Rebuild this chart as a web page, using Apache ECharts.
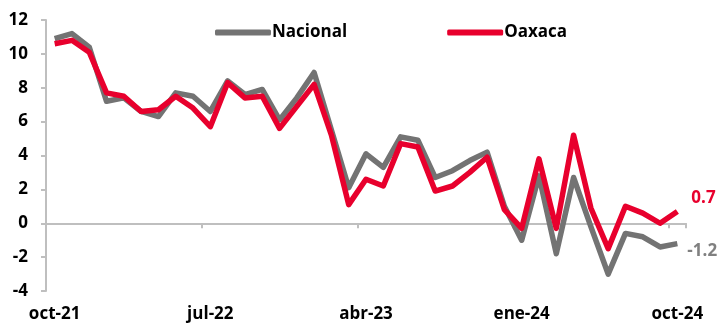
<!DOCTYPE html>
<html>
<head>
<meta charset="utf-8">
<script src="https://cdn.jsdelivr.net/npm/echarts@6/dist/echarts.min.js"></script>
<style>
	html, body { margin: 0; padding: 0; background: #fff; }
	#chart { width: 718px; height: 329px; }
</style>
</head>
<body>
<div id="chart"></div>
<script>
	// meses oct-21 ... oct-24
	const months = [
		'oct-21', 'nov-21', 'dic-21', 'ene-22', 'feb-22', 'mar-22', 'abr-22', 'may-22', 'jun-22',
		'jul-22', 'ago-22', 'sep-22', 'oct-22', 'nov-22', 'dic-22', 'ene-23', 'feb-23', 'mar-23',
		'abr-23', 'may-23', 'jun-23', 'jul-23', 'ago-23', 'sep-23', 'oct-23', 'nov-23', 'dic-23',
		'ene-24', 'feb-24', 'mar-24', 'abr-24', 'may-24', 'jun-24', 'jul-24', 'ago-24', 'sep-24', 'oct-24'
	];
	const nacional = [
		10.9, 11.2, 10.4, 7.2, 7.4, 6.6, 6.3, 7.7, 7.5,
		6.6, 8.4, 7.6, 7.9, 6.1, 7.4, 8.9, 5.5, 2.1,
		4.1, 3.3, 5.1, 4.9, 2.7, 3.1, 3.7, 4.2, 1.0,
		-1.0, 2.8, -1.8, 2.7, -0.2, -3.0, -0.6, -0.8, -1.4, -1.2
	];
	const oaxaca = [
		10.6, 10.8, 10.1, 7.7, 7.5, 6.6, 6.7, 7.5, 6.8,
		5.7, 8.3, 7.4, 7.5, 5.6, 6.9, 8.2, 5.2, 1.1,
		2.6, 2.2, 4.7, 4.5, 1.9, 2.2, 3.0, 3.9, 0.8,
		-0.3, 3.8, -0.3, 5.2, 0.9, -1.5, 1.0, 0.6, 0.0, 0.7
	];
	const yTicks = { min: -4, max: 12, interval: 2 };

	const font = '"Open Sans", "Noto Sans", sans-serif';
	const axisGray = '#bfbfbf';
	const grayLine = '#737373';
	const redLine = '#e8002d';

	let myChart = echarts.init(document.getElementById('chart'));
	const option = {
		animation: false,
		backgroundColor: '#fff',
		graphic: [{
			type: 'text',
			x: 0,
			y: -13,
			style: {
				text: '% anual',
				font: 'bold 17px ' + font,
				fill: '#000',
				verticalAlign: 'top'
			}
		}],
		legend: {
			data: ['Nacional', 'Oaxaca'],
			left: 210,
			top: 19,
			itemWidth: 56,
			itemHeight: 6,
			itemGap: 100,
			icon: 'roundRect',
			textStyle: {
				fontFamily: font,
				fontWeight: 'bold',
				fontSize: 17,
				color: '#000',
				padding: [0, 0, 0, -4]
			}
		},
		grid: {
			left: 46,
			right: 32,
			top: 20,
			bottom: 38
		},
		xAxis: [{
			type: 'category',
			data: months,
			position: 'bottom',
			axisLine: { show: false, onZero: false },
			axisTick: { show: false },
			axisLabel: {
				interval: 8,
				margin: 15,
				fontFamily: font,
				fontWeight: 'bold',
				fontSize: 17,
				color: '#000'
			}
		}, {
			type: 'category',
			data: months,
			position: 'bottom',
			axisLine: {
				show: true,
				onZero: true,
				lineStyle: { color: axisGray, width: 2 }
			},
			axisTick: {
				show: true,
				interval: 8,
				length: 5,
				lineStyle: { color: axisGray, width: 2 }
			},
			axisLabel: { show: false }
		}],
		yAxis: {
			type: 'value',
			min: yTicks.min,
			max: yTicks.max,
			interval: yTicks.interval,
			axisLine: {
				show: true,
				onZero: false,
				lineStyle: { color: axisGray, width: 2 }
			},
			axisTick: {
				show: true,
				length: 5,
				lineStyle: { color: axisGray, width: 2 }
			},
			splitLine: { show: false },
			axisLabel: {
				margin: 18,
				fontFamily: font,
				fontWeight: 'bold',
				fontSize: 17,
				color: '#000'
			}
		},
		series: [{
			name: 'Nacional',
			type: 'line',
			xAxisIndex: 0,
			data: nacional,
			symbol: 'none',
			color: grayLine,
			lineStyle: { width: 5.5, color: grayLine, join: 'round' },
			endLabel: {
				show: true,
				formatter: (p) => p.value.toFixed(1),
				offset: [2, 8],
				fontFamily: font,
				fontWeight: 'bold',
				fontSize: 17,
				color: '#808080'
			}
		}, {
			name: 'Oaxaca',
			type: 'line',
			xAxisIndex: 0,
			data: oaxaca,
			symbol: 'none',
			color: redLine,
			lineStyle: { width: 5.5, color: redLine, join: 'round' },
			endLabel: {
				show: true,
				formatter: (p) => p.value.toFixed(1),
				offset: [6, -13],
				fontFamily: font,
				fontWeight: 'bold',
				fontSize: 17,
				color: redLine
			}
		}]
	};
	myChart.setOption(option);
</script>
</body>
</html>
